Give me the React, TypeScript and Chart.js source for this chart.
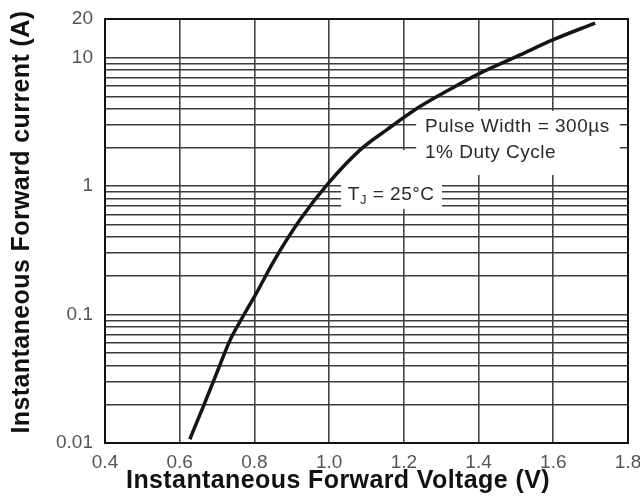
import React, { useEffect, useRef } from 'react';
import { Chart, registerables } from 'chart.js';

Chart.register(...registerables);

// Forward voltage (V) vs instantaneous forward current (A), Tj = 25°C
const VOLTAGE = [0.627, 0.663, 0.699, 0.735, 0.766, 0.806, 0.850, 0.922, 0.998, 1.083, 1.154, 1.243, 1.320, 1.395, 1.511, 1.600, 1.712];
const CURRENT = [0.0107, 0.0192, 0.035, 0.0634, 0.093, 0.148, 0.255, 0.546, 1.053, 1.914, 2.74, 4.16, 5.6, 7.35, 10.5, 13.8, 18.6];

const X_TICKS = [0.4, 0.6, 0.8, 1.0, 1.2, 1.4, 1.6, 1.8];
const Y_GRID = [
  0.01, 0.02, 0.03, 0.04, 0.05, 0.06, 0.07, 0.08, 0.09,
  0.1, 0.2, 0.3, 0.4, 0.5, 0.6, 0.7, 0.8, 0.9,
  1, 2, 3, 4, 5, 6, 7, 8, 9,
  10, 20,
];
const Y_LABELED = [0.01, 0.1, 1, 10, 20];
const Y_LABELS = ['0.01', '0.1', '1', '10', '20'];

const X_TITLE = 'Instantaneous Forward Voltage (V)';
const Y_TITLE = 'Instantaneous Forward current (A)';
const NOTE_LINE1 = 'Pulse Width = 300µs';
const NOTE_LINE2 = '1% Duty Cycle';

const FONT = '"Liberation Sans", Arial, Helvetica, sans-serif';

const overlayPlugin = {
  id: 'overlay',
  beforeDatasetsDraw(chart: any) {
    const { ctx, chartArea: a, scales } = chart;
    const x = scales.x;
    const y = scales.y;
    ctx.save();
    // white label backgrounds covering the grid
    ctx.fillStyle = '#ffffff';
    const pb = [x.getPixelForValue(1.233), y.getPixelForValue(3.85), x.getPixelForValue(1.778), y.getPixelForValue(1.22)];
    ctx.fillRect(pb[0], pb[1], pb[2] - pb[0], pb[3] - pb[1]);
    const tb = [x.getPixelForValue(1.032), y.getPixelForValue(1.91), x.getPixelForValue(1.302), y.getPixelForValue(0.665)];
    ctx.fillRect(tb[0], tb[1], tb[2] - tb[0], tb[3] - tb[1]);

    // frame
    ctx.strokeStyle = '#111111';
    ctx.lineWidth = 2;
    ctx.strokeRect(a.left, a.top, a.right - a.left, a.bottom - a.top);

    // notes
    ctx.fillStyle = '#2a2a2a';
    ctx.textBaseline = 'middle';
    ctx.textAlign = 'left';
    ctx.font = `19px ${FONT}`;
    (ctx as any).letterSpacing = '0.5px';
    const nx = x.getPixelForValue(1.2566);
    ctx.fillText(NOTE_LINE1, nx, y.getPixelForValue(2.89));
    ctx.fillText(NOTE_LINE2, nx, y.getPixelForValue(1.81));

    const tx = x.getPixelForValue(1.05);
    const ty = y.getPixelForValue(0.853);
    ctx.fillText('T', tx, ty);
    const tw = ctx.measureText('T').width;
    ctx.font = `13px ${FONT}`;
    ctx.fillText('J', tx + tw, ty + 5);
    const jw = ctx.measureText('J').width;
    ctx.font = `19px ${FONT}`;
    ctx.fillText(' = 25°C', tx + tw + jw, ty);
    ctx.restore();
  },
  afterDraw(chart: any) {
    const { ctx } = chart;
    ctx.save();
    ctx.fillStyle = '#111111';
    ctx.font = `bold 25px ${FONT}`;
    (ctx as any).letterSpacing = '0.4px';
    ctx.textAlign = 'center';
    ctx.textBaseline = 'middle';
    ctx.fillText(X_TITLE, 338, 481);
    ctx.translate(22, 222);
    ctx.rotate(-Math.PI / 2);
    ctx.fillText(Y_TITLE, 0, 0);
    ctx.restore();
  },
};

export default function App() {
  const ref = useRef<HTMLCanvasElement | null>(null);

  useEffect(() => {
    if (!ref.current) return;
    const chart = new Chart(ref.current, {
      type: 'line',
      data: {
        datasets: [
          {
            data: VOLTAGE.map((v, i) => ({ x: v, y: CURRENT[i] })),
            borderColor: '#151515',
            borderWidth: 3.5,
            pointRadius: 0,
            fill: false,
            cubicInterpolationMode: 'monotone',
          },
        ],
      },
      options: {
        animation: false,
        responsive: false,
        maintainAspectRatio: false,
        layout: { padding: { top: 19, right: 12, left: 0, bottom: 0 } },
        plugins: {
          legend: { display: false },
          tooltip: { enabled: false },
        },
        scales: {
          x: {
            type: 'linear',
            min: 0.4,
            max: 1.8,
            afterBuildTicks: (s: any) => {
              s.ticks = X_TICKS.map((v) => ({ value: v }));
            },
            afterFit: (s: any) => {
              s.height = 56;
              s.paddingLeft = 0;
              s.paddingRight = 0;
            },
            grid: { color: '#444444', lineWidth: 1.6, drawTicks: false },
            border: { display: true, color: '#111111', width: 2 },
            ticks: {
              autoSkip: false,
              maxRotation: 0,
              padding: 8,
              color: '#555555',
              font: { family: FONT, size: 19 },
              callback: (v: any) => Number(v).toFixed(1),
            },
          },
          y: {
            type: 'logarithmic',
            min: 0.01,
            max: 20,
            afterBuildTicks: (s: any) => {
              s.ticks = Y_GRID.map((v) => ({ value: v }));
            },
            afterFit: (s: any) => {
              s.width = 105;
              s.paddingTop = 0;
              s.paddingBottom = 0;
            },
            grid: { color: '#3c3c3c', lineWidth: 1.6, drawTicks: false },
            border: { display: true, color: '#111111', width: 2 },
            ticks: {
              autoSkip: false,
              padding: 12,
              color: '#555555',
              font: { family: FONT, size: 19 },
              callback: (v: any) => {
                const idx = Y_LABELED.findIndex((t) => Math.abs(t - Number(v)) < 1e-9);
                return idx >= 0 ? Y_LABELS[idx] : '';
              },
            },
          },
        },
      },
      plugins: [overlayPlugin],
    } as any);
    return () => chart.destroy();
  }, []);

  return (
    <div style={{ position: 'absolute', left: 0, top: 0, width: 640, height: 499, background: '#ffffff' }}>
      <canvas ref={ref} width={640} height={499} />
    </div>
  );
}
